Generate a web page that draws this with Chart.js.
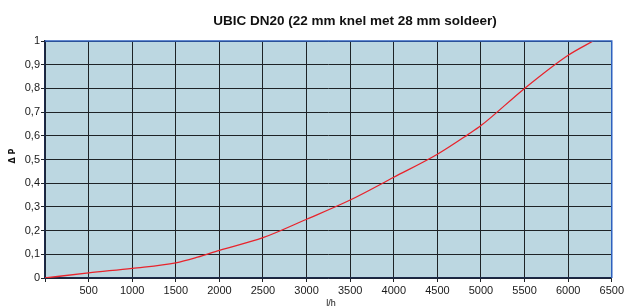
<!DOCTYPE html>
<html>
<head>
<meta charset="utf-8">
<script src="https://cdn.jsdelivr.net/npm/chart.js@4/dist/chart.umd.min.js"></script>
<style>
    html, body { margin: 0; padding: 0; background: #fff; }
    #wrap { width: 626px; height: 306px; }
</style>
</head>
<body>
<div id="wrap"><canvas id="curveChart" width="626" height="306"></canvas></div>
<script>
// Flow (l/h) and pressure drop
const flowValues = [0, 500, 1000, 1500, 1750, 2000, 2500, 3000, 3500, 4000, 4500, 4850, 5000, 5500, 6000, 6286];
const dpValues = [0, 0.022, 0.041, 0.064, 0.088, 0.117, 0.17, 0.248, 0.329, 0.425, 0.522, 0.605, 0.643, 0.80, 0.94, 1.0];

const chartTitle = 'UBIC DN20 (22 mm knel met 28 mm soldeer)';
const xLabel = 'l/h';
const yLabel = '\u0394 P';

const points = flowValues.map((f, i) => ({ x: f, y: dpValues[i] }));

// plot background, frame and extra texts
const decor = {
    id: 'decor',
    beforeDraw(chart) {
        const { ctx, chartArea: a } = chart;
        ctx.save();
        ctx.fillStyle = '#bcd7e1';
        ctx.fillRect(a.left, a.top, a.right - a.left, a.bottom - a.top);
        ctx.restore();
    },
    afterDraw(chart) {
        const { ctx, chartArea: a } = chart;
        ctx.save();
        // top and right border (blue)
        ctx.strokeStyle = '#2f62c0';
        ctx.lineWidth = 1.5;
        ctx.beginPath();
        ctx.moveTo(a.left, a.top);
        ctx.lineTo(a.right, a.top);
        ctx.lineTo(a.right, a.bottom);
        ctx.stroke();

        ctx.fillStyle = '#111';
        ctx.font = 'bold 13.5px "Liberation Sans", Arial, sans-serif';
        ctx.textAlign = 'center';
        ctx.textBaseline = 'middle';
        ctx.fillText(chartTitle, 355, 21);

        ctx.font = '9px "Liberation Sans", Arial, sans-serif';
        ctx.fillText(xLabel, 331, 304);

        ctx.translate(13, 156);
        ctx.rotate(-Math.PI / 2);
        ctx.font = 'bold 8px "DejaVu Sans", sans-serif';
        ctx.fillText(yLabel, 0, 0);
        ctx.restore();
    }
};

new Chart(document.getElementById('curveChart'), {
    type: 'scatter',
    data: {
        datasets: [{
            data: points,
            showLine: true,
            borderColor: '#e8242c',
            borderWidth: 1.3,
            pointRadius: 0,
            cubicInterpolationMode: 'monotone'
        }]
    },
    options: {
        responsive: false,
        animation: false,
        layout: { padding: { top: 41, right: 14, left: 0, bottom: 0 } },
        plugins: {
            legend: { display: false },
            tooltip: { enabled: false }
        },
        scales: {
            x: {
                type: 'linear',
                min: 0,
                max: 6500,
                afterFit: s => { s.height = 28; },
                border: { color: '#1b2a4a', width: 1.5 },
                grid: { color: '#1e2326', lineWidth: 1, tickLength: 4 },
                ticks: {
                    stepSize: 500,
                    autoSkip: false,
                    maxRotation: 0,
                    color: '#1a1a1a',
                    padding: 2,
                    font: { family: '"Liberation Sans", Arial, sans-serif', size: 11 },
                    callback: v => (v === 0 ? '' : String(v))
                }
            },
            y: {
                min: 0,
                max: 1,
                afterFit: s => { s.width = 45; },
                border: { color: '#1b2a4a', width: 1.5 },
                grid: { color: '#1e2326', lineWidth: 1, tickLength: 4 },
                ticks: {
                    stepSize: 0.1,
                    color: '#1a1a1a',
                    padding: 1,
                    font: { family: '"Liberation Sans", Arial, sans-serif', size: 11 },
                    callback: v => {
                        const r = Math.round(v * 10) / 10;
                        if (r === 0) return '0';
                        if (r === 1) return '1';
                        return r.toFixed(1).replace('.', ',');
                    }
                }
            }
        }
    },
    plugins: [decor]
});
</script>
</body>
</html>
